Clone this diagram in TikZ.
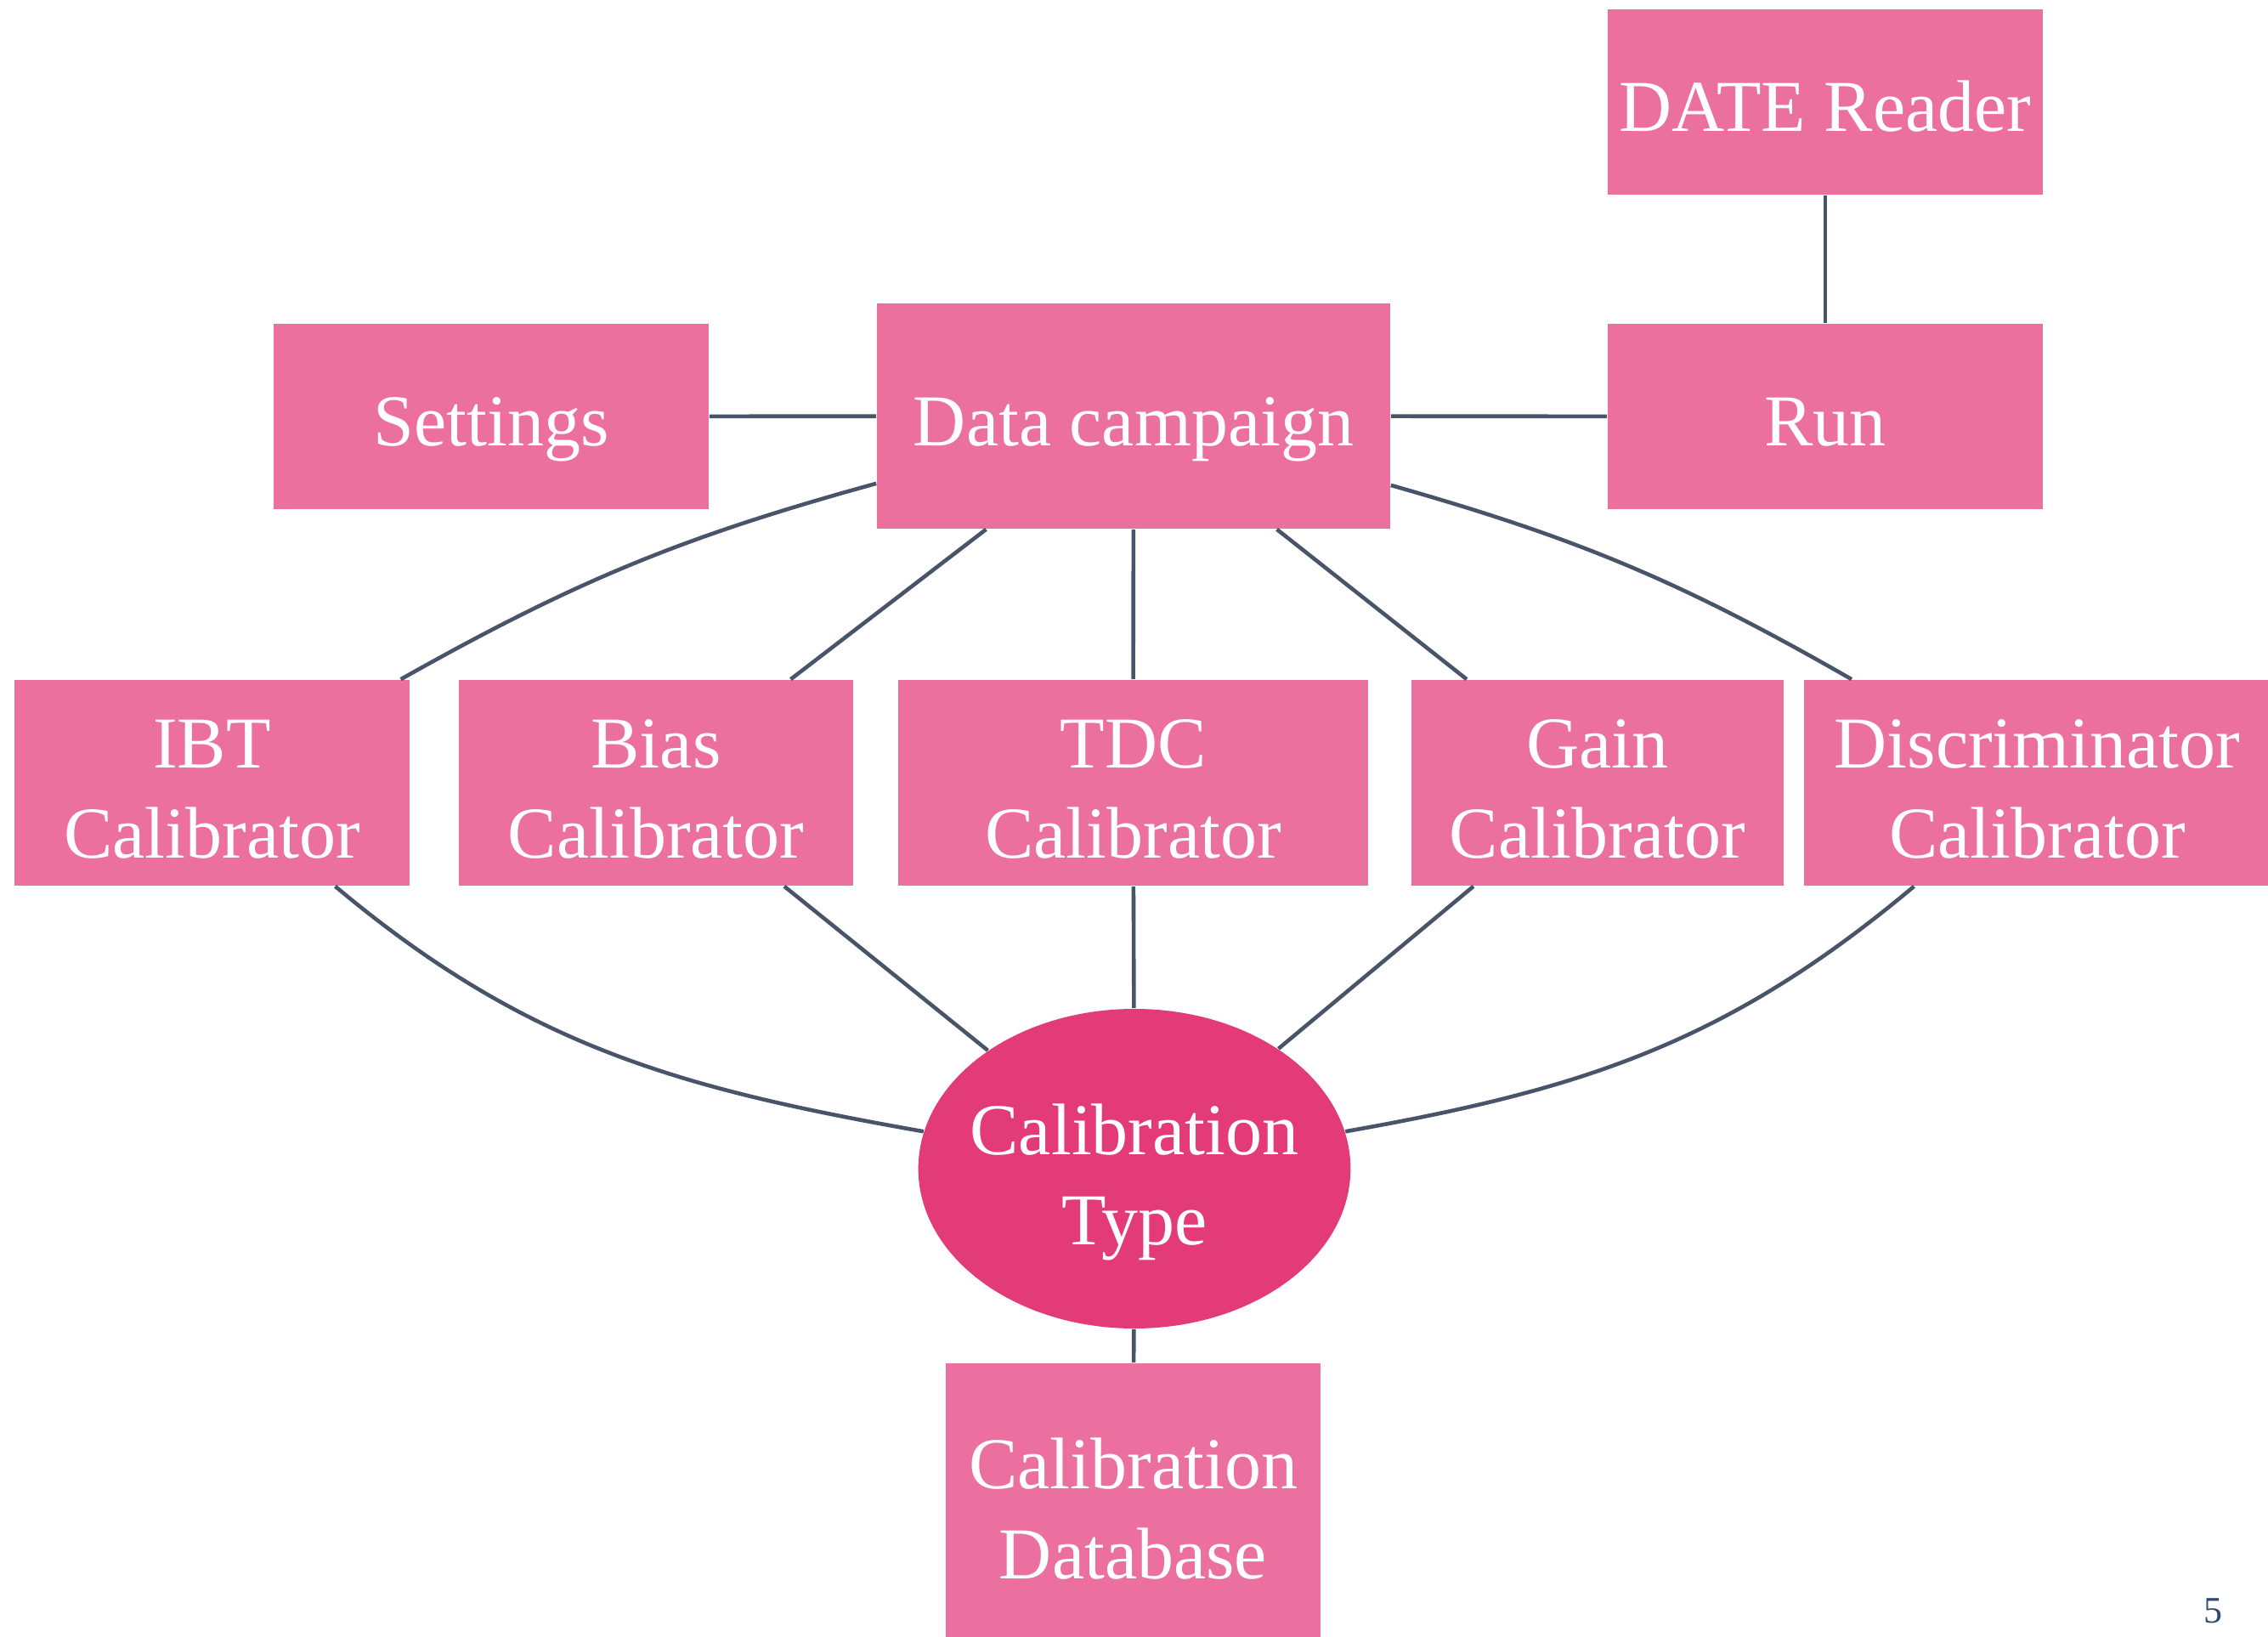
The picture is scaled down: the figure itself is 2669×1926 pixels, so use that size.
\documentclass[tikz,border=0pt]{standalone}
\usepackage{fontspec}
\setmainfont{Liberation Serif}
\usetikzlibrary{shapes.geometric}
\definecolor{boxpink}{RGB}{236,112,158}
\definecolor{dbpink}{RGB}{235,111,159}
\definecolor{ellpink}{RGB}{227,58,120}
\definecolor{linec}{RGB}{72,84,104}
\definecolor{pagenum}{RGB}{46,74,112}
\newcommand{\lowA}{\rule{0pt}{18pt}}
\newcommand{\lowB}{\rule{0pt}{23pt}}
\tikzset{
  box/.style={rectangle, fill=boxpink, draw=none, inner sep=0pt, text=white, align=center,
    font=\fontsize{21.5}{26.5}\selectfont},
  oneline/.style={text height=22pt, text depth=4.7pt},
  ell/.style={ellipse, fill=ellpink, draw=none, inner ysep=0pt, inner xsep=-3.4pt, text=white, align=center,
    font=\fontsize{21.5}{26.5}\selectfont},
  conn/.style={draw=linec, line width=1.15pt}
}
\begin{document}
\begin{tikzpicture}[x=0.25pt, y=-0.25pt]
\useasboundingbox (0,0) rectangle (2669,1926);
\clip (0,0) rectangle (2669,1926);
\node[box, oneline, minimum width=128pt, minimum height=54.5pt] (date) at (2148,120) {DATE Reader};
\node[box, oneline, minimum width=128pt, minimum height=54.5pt] (run) at (2148,490) {Run};
\node[box, oneline, minimum width=128pt, minimum height=54.5pt] (set) at (578,490) {Settings};
\node[box, oneline, minimum width=151pt, minimum height=66.25pt] (dc) at (1334,489.5) {Data campaign};
\node[box, minimum width=116.25pt, minimum height=60.5pt] (ibt) at (249.5,921) {\lowA IBT\\Calibrator};
\node[box, minimum width=116pt, minimum height=60.5pt] (bias) at (772,921) {\lowA Bias\\Calibrator};
\node[box, minimum width=138.25pt, minimum height=60.5pt] (tdc) at (1333.5,921) {\lowA TDC\\Calibrator};
\node[box, minimum width=109.5pt, minimum height=60.5pt] (gain) at (1880,921) {\lowA Gain\\Calibrator};
\node[box, minimum width=137.25pt, minimum height=60.5pt] (disc) at (2397.5,921) {\lowA Discriminator\\Calibrator};
\node[ell, minimum width=126.5pt, minimum height=94pt] (ct) at (1335,1375) {\lowB Calibration\\Type};
\node[box, fill=dbpink, minimum width=110.25pt, minimum height=85.5pt] (db) at (1333.5,1775) {Calibration\\Database};
\node[text=pagenum, font=\fontsize{11}{13}\selectfont, inner sep=0pt] (pn) at (2604,1895) {5};
\draw[conn] (date) -- (run);
\draw[conn] (set) -- (dc);
\draw[conn] (dc) -- (run);
\draw[conn] (dc) to[bend right=7] (ibt);
\draw[conn] (dc) -- (bias);
\draw[conn] (dc) -- (tdc);
\draw[conn] (dc) -- (gain);
\draw[conn] (dc) to[bend left=7] (disc);
\draw[conn] (ibt) to[out=-40, in=170] (ct);
\draw[conn] (bias) -- (ct);
\draw[conn] (tdc) -- (ct);
\draw[conn] (gain) -- (ct);
\draw[conn] (disc) to[out=220, in=10] (ct);
\draw[conn] (ct) -- (db);
\end{tikzpicture}
\end{document}
